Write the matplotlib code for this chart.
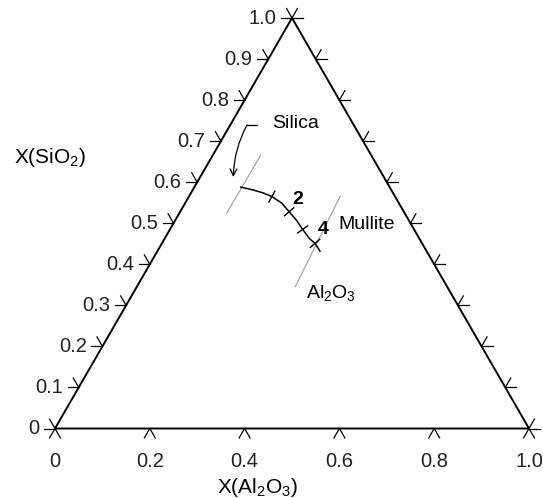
import numpy as np
import matplotlib
matplotlib.use('Agg')
import matplotlib.pyplot as plt

plt.rcParams['font.family'] = ['Liberation Sans', 'DejaVu Sans']
plt.rcParams['mathtext.fontset'] = 'custom'
plt.rcParams['mathtext.rm'] = 'Liberation Sans'
plt.rcParams['mathtext.default'] = 'regular'

# ---------------- data ----------------
sio2_ticks = [0.0, 0.1, 0.2, 0.3, 0.4, 0.5, 0.6, 0.7, 0.8, 0.9, 1.0]
sio2_labels = ['0', '0.1', '0.2', '0.3', '0.4', '0.5', '0.6', '0.7', '0.8', '0.9', '1.0']
al2o3_ticks = [0.0, 0.2, 0.4, 0.6, 0.8, 1.0]
al2o3_labels = ['0', '0.2', '0.4', '0.6', '0.8', '1.0']
right_ticks = [0.0, 0.1, 0.2, 0.3, 0.4, 0.5, 0.6, 0.7, 0.8, 0.9, 1.0]

# composition path (X(Al2O3), X(SiO2))
path_al2o3 = [0.098, 0.128, 0.152, 0.175, 0.204, 0.230, 0.255, 0.280, 0.305, 0.323, 0.340, 0.343]
path_sio2 = [0.588, 0.581, 0.574, 0.565, 0.549, 0.528, 0.508, 0.485, 0.463, 0.451, 0.435, 0.432]

# cross markers along the path
mark_al2o3 = [0.175, 0.230, 0.280, 0.323]
mark_sio2 = [0.565, 0.528, 0.485, 0.451]

# numbered labels along the path
num_labels = ['2', '4']
num_al2o3 = [0.234, 0.324]
num_sio2 = [0.557, 0.484]

# phase boundary lines (gray): (Al2O3 start, SiO2 start, Al2O3 end, SiO2 end)
silica_bnd = (0.101, 0.666, 0.100, 0.525)
alumina_bnd = (0.319, 0.565, 0.334, 0.346)

# region labels
region_names = ['Silica', 'Mullite', r'Al$_2$O$_3$']
region_al2o3 = [0.136, 0.4085, 0.417]
region_sio2 = [0.744, 0.498, 0.330]

# silica arrow (tail, corner, tip)
arrow_al2o3 = [0.0565, 0.0354, 0.0698]
arrow_sio2 = [0.7394, 0.7394, 0.6127]

H = np.sqrt(3) / 2


def to_xy(a, s):
    a = np.asarray(a, dtype=float)
    s = np.asarray(s, dtype=float)
    return a + s / 2, s * H


fig = plt.figure(figsize=(5.43, 4.98), dpi=100)
ax = fig.add_axes([0, 0, 1, 1])
ax.set_xlim(-55 / 474, 488 / 474)
ax.set_ylim(-69.5 / 474, 428.5 / 474)
ax.axis('off')

# triangle
tx, ty = to_xy([0, 1, 0, 0], [0, 0, 1, 0])
ax.plot(tx, ty, color='black', lw=1.4, solid_joinstyle='miter')

L = 0.023
tick_kw = dict(color='black', lw=0.9)

# bottom ticks (Al2O3)
for a in al2o3_ticks:
    x0, y0 = to_xy(a, 0)
    for dx, dy in [(-0.5, -H), (0.5, -H)]:
        ax.plot([x0, x0 + L * dx], [y0, y0 + L * dy], **tick_kw)
# left ticks (SiO2)
for s in sio2_ticks:
    x0, y0 = to_xy(0, s)
    for dx, dy in [(-1, 0), (-0.5, H)]:
        ax.plot([x0, x0 + L * dx], [y0, y0 + L * dy], **tick_kw)
# right ticks
for s in right_ticks:
    x0, y0 = to_xy(1 - s, s)
    for dx, dy in [(1, 0), (0.5, H)]:
        ax.plot([x0, x0 + L * dx], [y0, y0 + L * dy], **tick_kw)

lab_col = '#222222'
for s, lab in zip(sio2_ticks, sio2_labels):
    x0, y0 = to_xy(0, s)
    ax.text(x0 - 0.033, y0, lab, ha='right', va='center', fontsize=14.5, color=lab_col)
for a, lab in zip(al2o3_ticks, al2o3_labels):
    x0, y0 = to_xy(a, 0)
    ax.text(x0, y0 - 0.069, lab, ha='center', va='center', fontsize=14.5, color=lab_col)

ax.text(-0.0105, 0.5707, r'X(SiO$_2$)', ha='center', va='center', fontsize=15)
ax.text(0.428, -0.1255, r'X(Al$_2$O$_3$)', ha='center', va='center', fontsize=15)

# boundaries
for b in (silica_bnd, alumina_bnd):
    bx, by = to_xy([b[0], b[2]], [b[1], b[3]])
    ax.plot(bx, by, color='#9a9a9a', lw=0.8)

# path
px, py = to_xy(path_al2o3, path_sio2)
ax.plot(px, py, color='black', lw=1.1)

# crosses on path
half = 0.013
for a, s in zip(mark_al2o3, mark_sio2):
    mx, my = to_xy(a, s)
    i = int(np.argmin((px - mx) ** 2 + (py - my) ** 2))
    i0, i1 = max(i - 1, 0), min(i + 1, len(px) - 1)
    tx_, ty_ = px[i1] - px[i0], py[i1] - py[i0]
    n = np.hypot(tx_, ty_)
    nx, ny = -ty_ / n, tx_ / n
    ax.plot([mx - half * nx, mx + half * nx], [my - half * ny, my + half * ny],
            color='black', lw=1.0)

for lab, a, s in zip(num_labels, num_al2o3, num_sio2):
    nx_, ny_ = to_xy(a, s)
    ax.text(nx_, ny_, lab, ha='center', va='center', fontsize=14, fontweight='bold')

for lab, a, s in zip(region_names, region_al2o3, region_sio2):
    rx, ry = to_xy(a, s)
    ax.text(rx, ry, lab, ha='center', va='center', fontsize=14)

# arrow from Silica label
ax_, ay_ = to_xy(arrow_al2o3, arrow_sio2)
ax.plot(ax_[:2], ay_[:2], color='black', lw=0.9)
ax.annotate('', xy=(ax_[2], ay_[2]), xytext=(ax_[1], ay_[1]),
            arrowprops=dict(arrowstyle='->', color='black', lw=0.9,
                            connectionstyle='arc3,rad=0.12', mutation_scale=12,
                            shrinkA=0, shrinkB=0))

fig.savefig('out.png', dpi=100)
